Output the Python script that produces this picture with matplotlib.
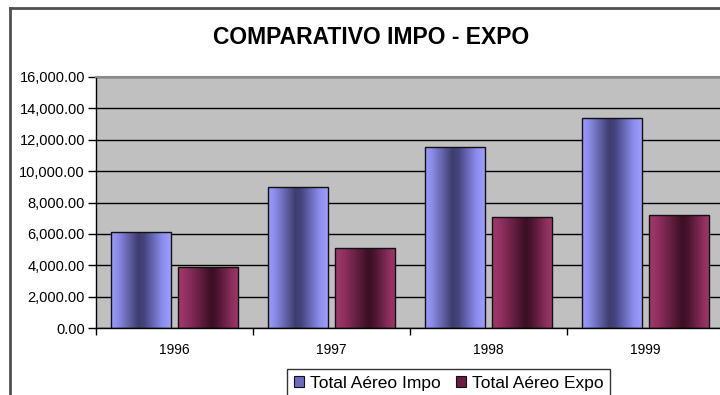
import matplotlib
matplotlib.use("Agg")
import matplotlib.pyplot as plt
import numpy as np
from matplotlib.colors import LinearSegmentedColormap
from matplotlib.patches import Patch
from matplotlib.lines import Line2D
from matplotlib.ticker import FuncFormatter, FixedLocator

plt.rcParams['font.family'] = ['Liberation Sans', 'DejaVu Sans']

years = ["1996", "1997", "1998", "1999"]
impo = [6100, 9000, 11550, 13400]
expo = [3900, 5120, 7060, 7220]
series_names = ["Total Aéreo Impo", "Total Aéreo Expo"]
title = "COMPARATIVO IMPO - EXPO"

# cylinder-like shading across each bar
impo_cmap = LinearSegmentedColormap.from_list(
    "impo", [(0.0, "#9c9cff"), (0.12, "#8a8ae6"), (0.45, "#3d3d6e"),
             (0.55, "#454580"), (0.85, "#8d8def"), (1.0, "#a0a0ff")])
expo_cmap = LinearSegmentedColormap.from_list(
    "expo", [(0.0, "#a03a6a"), (0.15, "#903060"), (0.55, "#3a0f24"),
             (0.65, "#4a1530"), (0.9, "#8f2f5e"), (1.0, "#a03a6a")])

fig = plt.figure(figsize=(7.2, 3.95), dpi=100)
fig.patch.set_facecolor("white")

ax = fig.add_axes([96 / 720, 1 - 328 / 395, 628 / 720, 251 / 395])
ax.set_facecolor("#c0c0c0")

x = np.arange(len(years))
w = 0.385
off = 0.213
grad = np.linspace(0, 1, 256).reshape(1, -1)

for vals, sign, cmap in ((impo, -1, impo_cmap), (expo, 1, expo_cmap)):
    bars = ax.bar(x + sign * off, vals, width=w, color="none",
                  edgecolor="#111111", linewidth=1.0, zorder=3)
    for b in bars:
        x0, y0 = b.get_x(), b.get_y()
        im = ax.imshow(grad, cmap=cmap, aspect="auto",
                       extent=(x0, x0 + b.get_width(), y0, y0 + b.get_height()),
                       zorder=2, interpolation="bilinear")
        im.set_clip_path(b)
ax.set_xlim(-0.5, len(years) - 0.5)
ax.set_ylim(0, 16000)

# gridlines
ax.set_yticks(np.arange(0, 16001, 2000))
ax.yaxis.grid(True, color="black", linewidth=1.0, zorder=1)
ax.set_axisbelow(True)
ax.yaxis.set_major_formatter(FuncFormatter(lambda v, p: f"{v:,.2f}"))
ax.tick_params(axis="y", direction="out", length=6, width=1.0,
               labelsize=10.5, pad=2, colors="black")

ax.set_xticks(x)
ax.set_xticklabels(years)
ax.xaxis.set_minor_locator(FixedLocator(np.arange(-0.5, len(years), 1.0)))
ax.tick_params(axis="x", which="major", length=0, labelsize=10, pad=11)
ax.tick_params(axis="x", which="minor", direction="out", length=5, width=1.0)

for s in ("left", "bottom"):
    ax.spines[s].set_color("black")
    ax.spines[s].set_linewidth(1.0)
ax.spines["top"].set_color("#8c8c8c")
ax.spines["top"].set_linewidth(1.5)
ax.spines["right"].set_visible(False)

fig.text(371 / 720, 1 - 37 / 395, title, ha="center", va="center",
         fontsize=16.5, fontweight="bold", color="black")

# outer chart frame
fig.add_artist(Line2D([10 / 720, 10 / 720], [0, 1 - 7.5 / 395],
                      transform=fig.transFigure, color="#505050", linewidth=2))
fig.add_artist(Line2D([10 / 720, 1], [1 - 7.5 / 395, 1 - 7.5 / 395],
                      transform=fig.transFigure, color="#505050", linewidth=2))

handles = [Patch(facecolor="#6b6bc0", edgecolor="#111111", linewidth=0.8),
           Patch(facecolor="#6a1c42", edgecolor="#111111", linewidth=0.8)]
leg = fig.legend(handles, series_names, loc="upper left",
                 bbox_to_anchor=(287 / 720, 1 - 369 / 395), ncol=2,
                 fontsize=12.5, frameon=True, fancybox=False,
                 edgecolor="black", handlelength=0.6, handleheight=0.6,
                 handletextpad=0.3, columnspacing=0.9, borderpad=0.4,
                 borderaxespad=0)
leg.get_frame().set_linewidth(1.0)

fig.savefig("out.png", dpi=100)
